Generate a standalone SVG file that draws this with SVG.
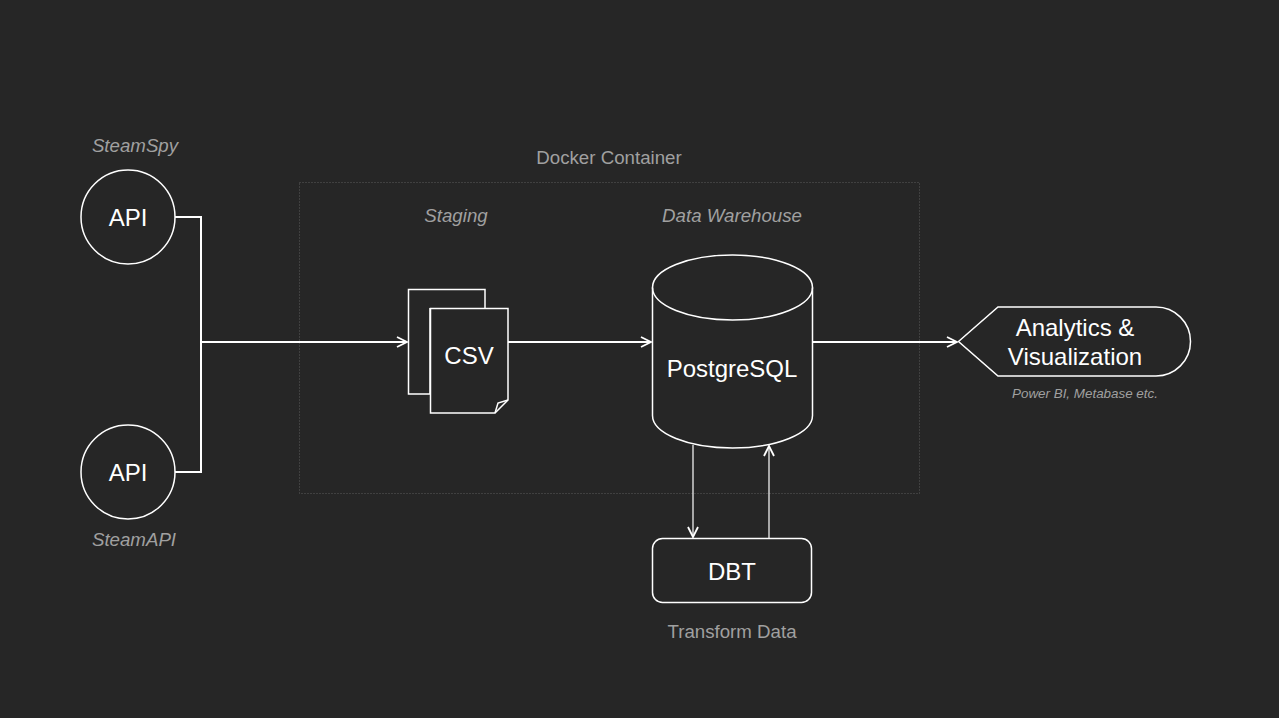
<svg xmlns="http://www.w3.org/2000/svg" width="1279" height="718" viewBox="0 0 1279 718">
<defs>
<style>
.bg{fill:#262626}
.shape{fill:none;stroke:#ffffff;stroke-width:1.5}
.wire{fill:none;stroke:#ffffff;stroke-width:2}
.thin{fill:none;stroke:#ffffff;stroke-width:1.2}
.node{font-family:"Liberation Sans",Arial,sans-serif;font-size:24px;fill:#ffffff;text-anchor:middle}
.lbl{font-family:"Liberation Sans",Arial,sans-serif;font-size:18.7px;fill:#a0a0a0;text-anchor:middle}
.it{font-style:italic}
</style>
<marker id="arr" viewBox="0 0 12 12" refX="11" refY="6" markerWidth="12" markerHeight="12" markerUnits="userSpaceOnUse" orient="auto">
<path d="M1,1 L11,6 L1,11" fill="none" stroke="#ffffff" stroke-width="1.8"/>
</marker>
</defs>
<rect class="bg" x="0" y="0" width="1279" height="718"/>
<g id="container">
<rect x="299.5" y="182.5" width="620" height="311" fill="none" stroke="#5a5a5a" stroke-width="1" stroke-dasharray="1 2"/>
<text class="lbl" x="609" y="164">Docker Container</text>
</g>
<g id="api-steamspy">
<circle class="shape" cx="128" cy="217" r="47"/>
<text class="node" x="128" y="226">API</text>
<text class="lbl it" x="135" y="152">SteamSpy</text>
</g>
<g id="api-steamapi">
<circle class="shape" cx="128" cy="472" r="47"/>
<text class="node" x="128" y="481">API</text>
<text class="lbl it" x="134" y="546">SteamAPI</text>
</g>
<g id="csv">
<path class="shape" d="M430,308 V394 H408.5 V289.5 H485 V308"/>
<path class="shape" fill="#262626" d="M430.5,308.5 H508 V400 L495,413 H430.5 Z"/>
<path class="shape" d="M508,400 L498,403 L495,413"/>
<text class="node" x="469" y="364">CSV</text>
<text class="lbl it" x="456" y="222">Staging</text>
</g>
<g id="postgres">
<path class="shape" d="M652.5,287.5 V415.5 A80,32.5 0 0 0 812.5,415.5 V287.5"/>
<ellipse class="shape" cx="732.5" cy="287.5" rx="80" ry="32.5"/>
<text class="node" x="732" y="377">PostgreSQL</text>
<text class="lbl it" x="732" y="222">Data Warehouse</text>
</g>
<g id="analytics">
<path class="shape" d="M958.5,341.5 L998,307 H1156 A34.5,34.5 0 0 1 1156,376 H998 Z"/>
<text class="node" x="1075" y="336">Analytics &amp;</text>
<text class="node" x="1075" y="365">Visualization</text>
<text class="lbl it" x="1085" y="398" style="font-size:13.4px">Power BI, Metabase etc.</text>
</g>
<g id="dbt">
<rect class="shape" x="652.5" y="538.5" width="159" height="64" rx="10"/>
<text class="node" x="732" y="580">DBT</text>
<text class="lbl" x="732" y="638">Transform Data</text>
</g>
<g id="connectors">
<path class="wire" d="M175,217 H201 V472 H175"/>
<path class="wire" d="M201,342 H407" marker-end="url(#arr)"/>
<path class="wire" d="M508,342 H651" marker-end="url(#arr)"/>
<path class="wire" d="M812.5,342 H957" marker-end="url(#arr)"/>
<path class="thin" d="M693,445 V537" marker-end="url(#arr)"/>
<path class="thin" d="M769,538 V446" marker-end="url(#arr)"/>
</g>
</svg>
